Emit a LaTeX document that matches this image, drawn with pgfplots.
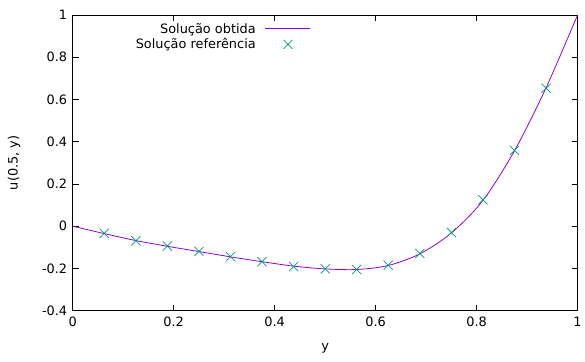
\documentclass[border=0pt]{standalone}
\usepackage{pgfplots}
\pgfplotsset{compat=1.18}
\usepackage{fontspec}
\setmainfont{DejaVu Sans}
\definecolor{gpviolet}{HTML}{9400D3}
\definecolor{gpgreen}{HTML}{009E73}
\pgfplotstableread{
x y
0 0
0.0625 -0.035
0.125 -0.068
0.1875 -0.095
0.25 -0.120
0.3125 -0.145
0.375 -0.168
0.4375 -0.189
0.5 -0.202
0.5625 -0.205
0.625 -0.186
0.6875 -0.131
0.75 -0.032
0.8125 0.122
0.875 0.357
0.9375 0.655
1 1
}\linedata
\pgfplotstableread{
x y
0.0625 -0.034
0.125 -0.069
0.1875 -0.094
0.25 -0.119
0.3125 -0.144
0.375 -0.168
0.4375 -0.191
0.5 -0.202
0.5625 -0.205
0.625 -0.184
0.6875 -0.129
0.75 -0.030
0.8125 0.125
0.875 0.359
0.9375 0.653
}\refdata
\pgfplotsset{
  linelegend/.style={legend image code/.code={\path (0bp,0bp); \draw[##1, gpviolet] (7bp,0bp) -- (52bp,0bp);}},
  marklegend/.style={legend image code/.code={\path (0bp,0bp); \draw[##1] plot coordinates {(30bp,0bp)};}},
}
\begin{document}
\begin{tikzpicture}
\begin{axis}[
  scale only axis,
  width=507bp, height=297bp,
  xmin=0, xmax=1, ymin=-0.4, ymax=1,
  xtick={0,0.2,...,1}, ytick={-0.4,-0.2,...,1},
  tick align=inside, major tick length=6bp,
  tick style={black, line width=0.6bp},
  axis line style={black, line width=0.8bp},
  /pgf/number format/assume math mode=true,
  /pgf/number format/fixed,
  /pgf/number format/precision=1,
  ticklabel style={font=\fontsize{13}{15}\selectfont},
  xticklabel style={yshift=-3bp},
  yticklabel style={xshift=-2bp},
  label style={font=\fontsize{13}{15}\selectfont},
  xlabel={y}, ylabel={u(0.5, y)},
  xlabel style={at={(axis description cs:0.5,-0.128)}, anchor=center},
  ylabel style={at={(axis description cs:-0.116,0.5)}, anchor=center},
  legend style={draw=none, fill=none, at={(0.471,0.98)}, anchor=north east,
    font=\fontsize{13}{15}\selectfont, row sep=0bp, inner sep=0bp},
  legend cell align=right,
  legend plot pos=right,
]
\addplot[gpviolet, line width=0.8bp, smooth, tension=0.5, linelegend] table {\linedata};
\addlegendentry{Solução obtida}
\addplot[only marks, mark=x, mark size=6.5bp, gpgreen, line width=0.7bp, marklegend] table {\refdata};
\addlegendentry{Solução referência}
\end{axis}
\path (current axis.south west) ++(-73bp,-51bp) coordinate (bl);
\path (current axis.north east) ++(5bp,15bp) coordinate (tr);
\useasboundingbox (bl) rectangle (tr);
\end{tikzpicture}
\end{document}
